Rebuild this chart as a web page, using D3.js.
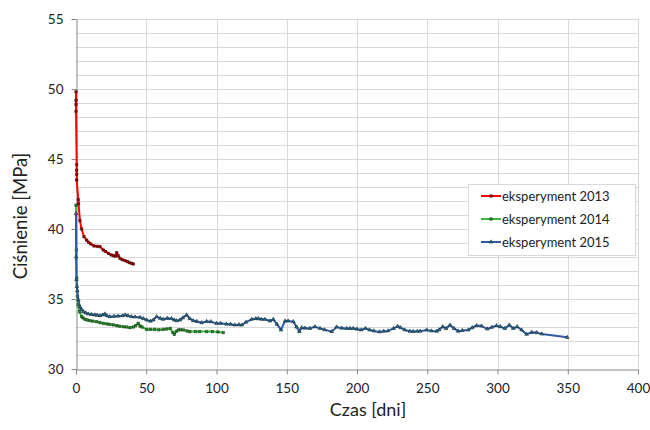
<!DOCTYPE html>
<html>
<head>
<meta charset="utf-8">
<script src="https://cdn.jsdelivr.net/npm/d3@7"></script>
<style>
  html, body { margin: 0; padding: 0; background: #fff; }
  svg { display: block; font-family: Lato, "Open Sans", sans-serif; }
</style>
</head>
<body>
<svg id="chart" width="650" height="430"></svg>
<script>
// ---- data ----
const xTicks = [0, 50, 100, 150, 200, 250, 300, 350, 400];
const yTicks = [30, 35, 40, 45, 50, 55];
const seriesNames = ["eksperyment 2013", "eksperyment 2014", "eksperyment 2015"];

const days2013 = [0, 0, 0, 0, 0.5, 0.5, 0.5, 0.5, 1.6, 1.8,
  2.8, 4, 5.7, 7.6, 9, 10.5, 12.8, 15, 17.1, 19.4,
  21, 23, 25, 26.5, 28, 29, 30, 31.3, 33, 34.9,
  36.5, 37.9, 39.5, 40.8];
const p2013 = [49.8, 49.2, 48.9, 48.4, 44.6, 44.2, 43.9, 43.5, 42.1, 41.8,
  40.6, 40.0, 39.45, 39.2, 39.05, 38.93, 38.79, 38.76, 38.74, 38.5,
  38.4, 38.26, 38.15, 38.1, 38.05, 38.31, 38.1, 37.9, 37.8, 37.74,
  37.68, 37.6, 37.55, 37.5];

const days2014 = [0, 0.2, 0.5, 1, 1.5, 2.5, 4, 5, 6.4, 8,
  10, 12, 14.7, 17, 19.4, 22, 24, 26.5, 29, 31,
  33.7, 36, 38.4, 40.8, 42.5, 44.3, 45.6, 47, 50.3, 53,
  56, 59, 62, 64.5, 67, 69, 70, 71.5, 72.8, 74.5,
  76.4, 79, 81, 85, 88, 93, 97, 101, 104.8];
const p2014 = [41.7, 38.5, 36.5, 35.2, 34.6, 34.1, 33.74, 33.65, 33.55, 33.5,
  33.45, 33.42, 33.38, 33.32, 33.26, 33.22, 33.19, 33.15, 33.1, 33.06,
  33.02, 33.0, 32.95, 33.0, 33.1, 33.26, 33.07, 33.0, 32.83, 32.83,
  32.83, 32.8, 32.83, 32.86, 32.9, 32.6, 32.48, 32.7, 32.79, 32.8,
  32.79, 32.72, 32.67, 32.67, 32.67, 32.67, 32.67, 32.65, 32.6];

const days2015 = [0, 0.1, 0.3, 0.6, 0.9, 1.7, 2.8, 4, 5.2, 7,
  8.8, 11, 13.5, 15, 17, 19, 20.6, 22, 24, 27,
  30, 33, 35, 37, 39.6, 42, 45.6, 48, 50.3, 53,
  55, 57.4, 60, 62, 65, 68, 70, 71.6, 74, 76,
  78.7, 81, 83.5, 86, 89.4, 93, 96, 100, 103, 107,
  110, 113, 116, 118, 121, 125, 128, 129.8, 132, 134.5,
  138, 140.4, 143, 145.9, 148.8, 151, 154.7, 157, 159, 160.6,
  163, 166.5, 170, 173.7, 177, 182, 185.5, 189, 192.6, 195,
  197.3, 200, 203, 206, 209, 212, 216, 219, 222, 226,
  229, 231, 234, 237.7, 240, 243, 245, 249.6, 253, 256.7,
  258.4, 261, 263.4, 266.2, 269, 272, 275, 279.2, 282, 285,
  288.6, 292.7, 296, 299.3, 302, 305.3, 308.4, 311.2, 314, 317.2,
  320.7, 324.3, 327.9, 331.5, 349.7];
const p2015 = [41.1, 38.0, 36.4, 35.9, 35.6, 34.93, 34.45, 34.25, 34.1, 34.0,
  33.93, 33.9, 33.86, 33.84, 33.81, 33.86, 33.93, 33.8, 33.74, 33.76,
  33.78, 33.8, 33.86, 33.8, 33.74, 33.72, 33.69, 33.6, 33.5, 33.42,
  33.5, 33.74, 33.62, 33.55, 33.62, 33.6, 33.5, 33.45, 33.5, 33.65,
  33.86, 33.6, 33.45, 33.4, 33.31, 33.4, 33.38, 33.26, 33.26, 33.21,
  33.2, 33.14, 33.16, 33.14, 33.35, 33.55, 33.6, 33.6, 33.55, 33.55,
  33.43, 33.55, 33.2, 32.79, 33.43, 33.43, 33.38, 33.0, 32.67, 32.95,
  32.92, 32.9, 33.02, 32.9, 32.8, 32.67, 33.0, 32.92, 32.9, 32.9,
  32.9, 32.85, 32.79, 32.9, 32.79, 32.72, 32.65, 32.7, 32.72, 32.9,
  33.05, 32.95, 32.79, 32.7, 32.68, 32.7, 32.7, 32.79, 32.72, 32.7,
  32.8, 33.02, 32.9, 33.14, 32.9, 32.7, 32.75, 32.79, 32.95, 33.1,
  33.07, 32.86, 32.98, 33.1, 33.02, 32.9, 33.14, 32.9, 33.02, 32.79,
  32.48, 32.62, 32.6, 32.5, 32.26];

// ---- layout ----
const L = 76, R = 638, T = 19, B = 369;
const svg = d3.select("#chart");
const x = d3.scaleLinear().domain([0, 400]).range([L, R]);
const y = d3.scaleLinear().domain([30, 55]).range([B, T]);
const px = v => Math.round(v) + 0.5;

// gridlines
const grid = svg.append("g");
grid.selectAll("line.h").data(d3.range(31, 56)).enter().append("line")
  .attr("x1", L).attr("x2", R)
  .attr("y1", d => px(y(d))).attr("y2", d => px(y(d)))
  .attr("stroke", "#d9d9d9").attr("stroke-width", 1);
grid.selectAll("line.v").data(xTicks.slice(1)).enter().append("line")
  .attr("y1", T).attr("y2", B)
  .attr("x1", d => px(x(d))).attr("x2", d => px(x(d)))
  .attr("stroke", "#d9d9d9").attr("stroke-width", 1);

// axes
const axisColor = "#868686";
const xAxis = svg.append("g").attr("transform", `translate(0,${px(B)})`)
  .call(d3.axisBottom(x).tickValues(xTicks).tickSize(5).tickPadding(9).tickSizeOuter(0));
const yAxis = svg.append("g").attr("transform", `translate(${px(L)},0)`)
  .call(d3.axisLeft(y).tickValues(yTicks).tickSize(5).tickPadding(8).tickSizeOuter(0));
[xAxis, yAxis].forEach(g => {
  g.select(".domain").attr("stroke", axisColor);
  g.selectAll(".tick line").attr("stroke", axisColor);
  g.selectAll(".tick text").attr("fill", "#222").style("font-size", "13.5px")
    .style("font-family", "Lato, 'Open Sans', sans-serif");
});

// axis titles
svg.append("text").attr("x", 368).attr("y", 416).attr("text-anchor", "middle")
  .style("font-size", "18px").attr("fill", "#222").text("Czas [dni]");
svg.append("text").attr("transform", "translate(27,216) rotate(-90)")
  .attr("text-anchor", "middle").style("font-size", "18.5px").attr("fill", "#222")
  .text("Ciśnienie [MPa]");

// series
const series = [
  { name: seriesNames[0], xs: days2013, ys: p2013, color: "#ff0000", mfill: "#a00000", mstroke: "#3a0000", shape: d3.symbolSquare },
  { name: seriesNames[1], xs: days2014, ys: p2014, color: "#3cb83c", mfill: "#2a8a2a", mstroke: "#0e300e", shape: d3.symbolSquare },
  { name: seriesNames[2], xs: days2015, ys: p2015, color: "#3557a8", mfill: "#2a7080", mstroke: "#0e2230", shape: d3.symbolTriangle }
];
const line = d3.line().x(d => x(d[0])).y(d => y(d[1]));
series.forEach(s => {
  const pts = s.xs.map((d, i) => [d, s.ys[i]]);
  const g = svg.append("g");
  g.append("path").datum(pts).attr("d", line)
    .attr("fill", "none").attr("stroke", s.color).attr("stroke-width", 2)
    .attr("stroke-linejoin", "round");
  g.selectAll("path.m").data(pts).enter().append("path")
    .attr("d", d3.symbol().type(s.shape).size(6))
    .attr("transform", d => `translate(${x(d[0])},${y(d[1])})`)
    .attr("fill", s.mfill).attr("stroke", s.mstroke).attr("stroke-width", 0.5);
});

// legend
const lg = svg.append("g");
lg.append("rect").attr("x", 468.5).attr("y", 184.5).attr("width", 167).attr("height", 71)
  .attr("fill", "#fff").attr("stroke", "#d9d9d9");
series.forEach((s, i) => {
  const yy = 196 + i * 23;
  lg.append("line").attr("x1", 481).attr("x2", 501).attr("y1", yy).attr("y2", yy)
    .attr("stroke", s.color).attr("stroke-width", 2);
  lg.append("path").attr("d", d3.symbol().type(s.shape).size(6))
    .attr("transform", `translate(491,${yy})`)
    .attr("fill", s.mfill).attr("stroke", s.mstroke).attr("stroke-width", 0.5);
  lg.append("text").attr("x", 502).attr("y", yy).attr("dy", "0.35em")
    .style("font-size", "13px").attr("fill", "#222").text(s.name);
});
</script>
</body>
</html>
